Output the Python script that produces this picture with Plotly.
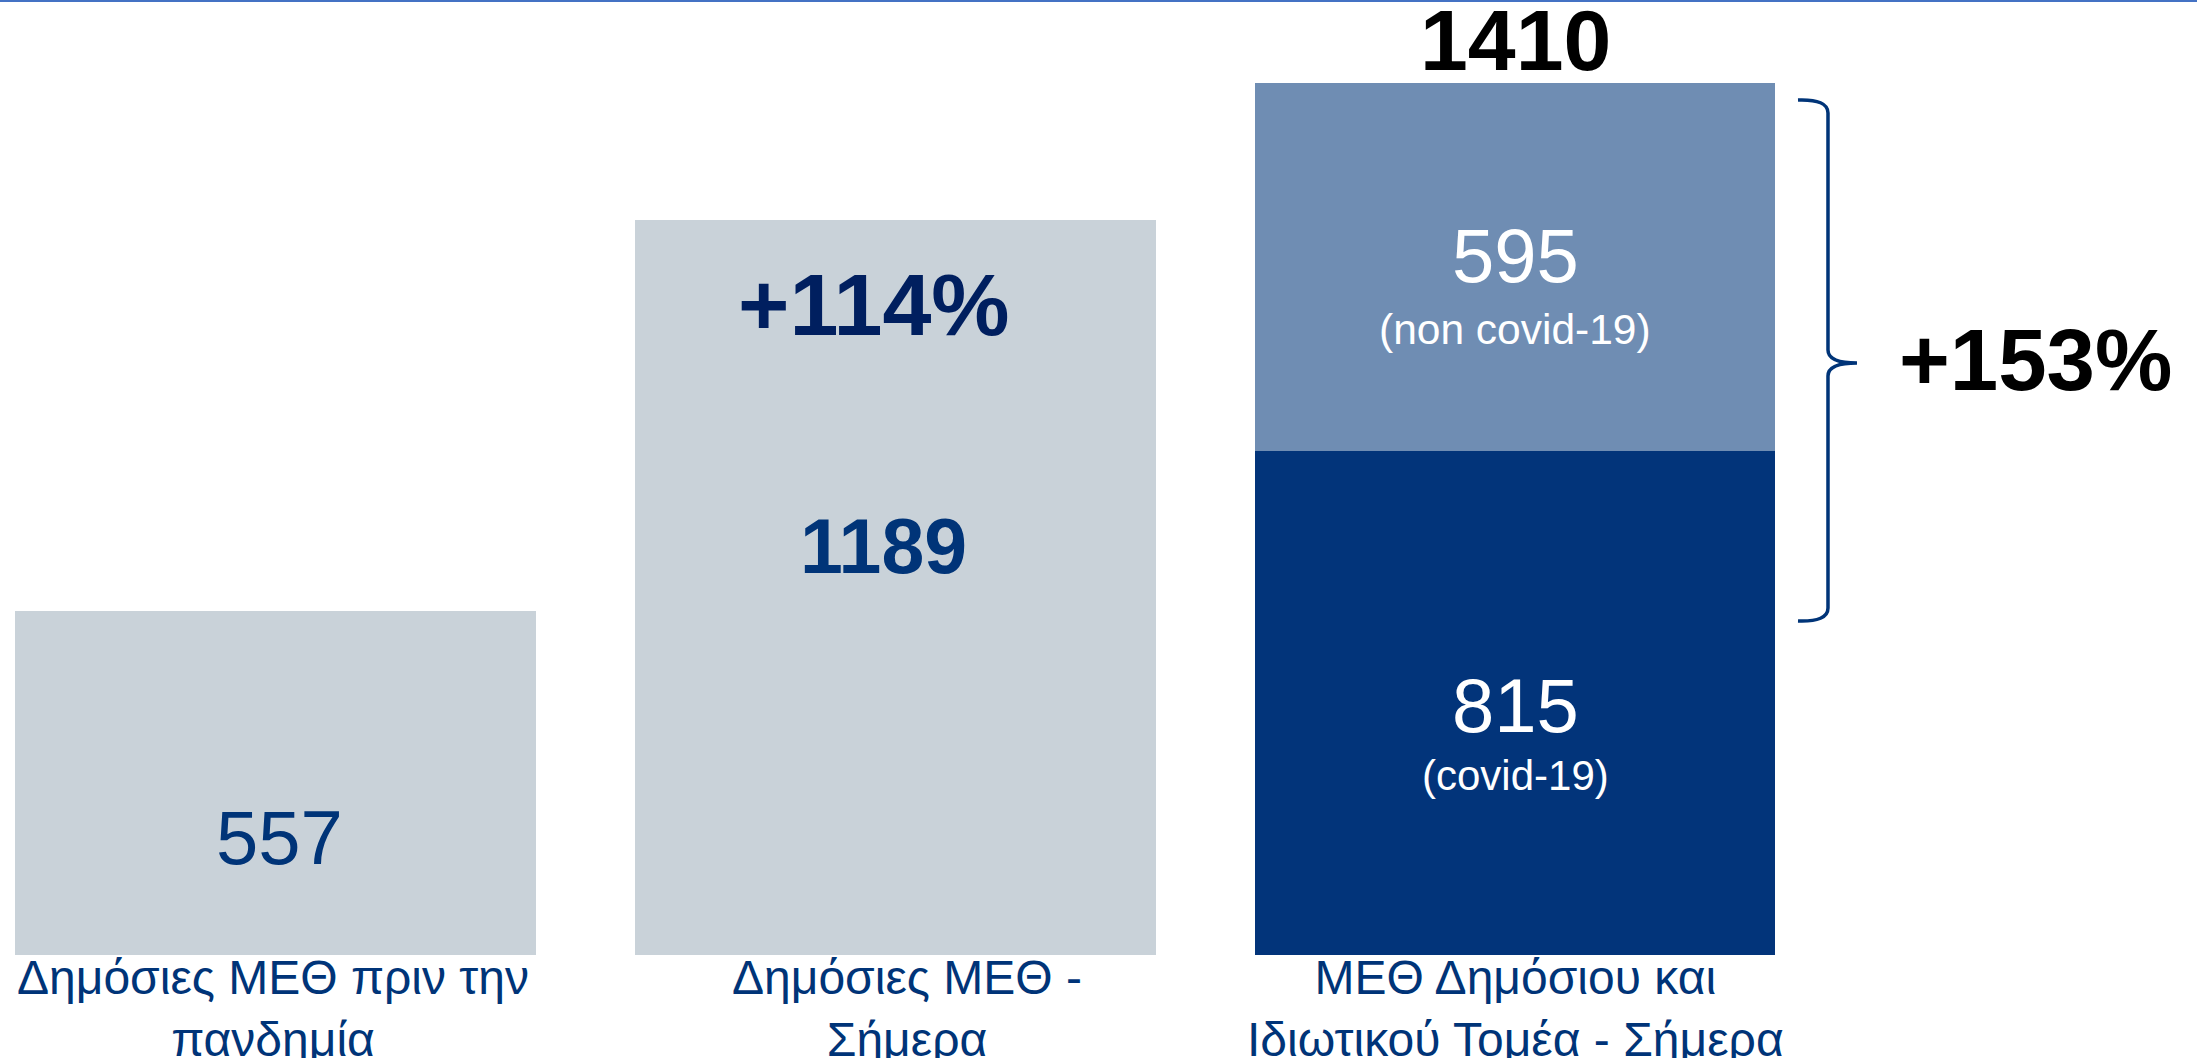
import plotly.graph_objects as go

# ---- data ----
categories = [
    "Δημόσιες ΜΕΘ πριν την<br>πανδημία",
    "Δημόσιες ΜΕΘ -<br>Σήμερα",
    "ΜΕΘ Δημόσιου και<br>Ιδιωτικού Τομέα - Σήμερα",
]
public_icu = [557, 1189, None]
covid_icu = [None, None, 815]
non_covid_icu = [None, None, 595]
total_today = 1410
pct_public = "+114%"
pct_total = "+153%"

W, H = 2197, 1058
PLOT_H = 955  # plot area height in px (top margin 0)

GRAY = "#C9D2D9"
STEEL = "#6F8DB3"
NAVY = "#02347A"
TXT_NAVY = "#003478"
DARK_NAVY = "#001F5F"
FONT = "Liberation Sans, Arial, sans-serif"

fig = go.Figure()
fig.add_trace(go.Bar(x=categories, y=public_icu, marker_color=GRAY, width=0.84,
                     marker_line_width=0, hoverinfo="skip"))
fig.add_trace(go.Bar(x=categories, y=covid_icu, marker_color=NAVY, width=0.84,
                     marker_line_width=0, hoverinfo="skip"))
fig.add_trace(go.Bar(x=categories, y=non_covid_icu, marker_color=STEEL, width=0.84,
                     marker_line_width=0, hoverinfo="skip"))


def ann(x, y, text, size, color, bold=False, **kw):
    t = f"<b>{text}</b>" if bold else text
    fig.add_annotation(x=x, y=y, text=t, showarrow=False,
                       font=dict(family=FONT, size=size, color=color), **kw)


# labels inside bars
ann(categories[0], public_icu[0] * 0.34, str(public_icu[0]), 76, TXT_NAVY, xshift=4)
ann(categories[1], public_icu[1] * 0.557, str(public_icu[1]), 77, TXT_NAVY, bold=True, xshift=-12)
ann(categories[1], public_icu[1] * 0.885, pct_public, 88, DARK_NAVY, bold=True, xshift=-21)
ann(categories[2], covid_icu[2] * 0.496, str(covid_icu[2]), 76, "white")
ann(categories[2], covid_icu[2] * 0.356, "(covid-19)", 42, "white")
ann(categories[2], covid_icu[2] + non_covid_icu[2] * 0.531, str(non_covid_icu[2]), 76, "white")
ann(categories[2], covid_icu[2] + non_covid_icu[2] * 0.33, "(non covid-19)", 42.5, "white")
ann(categories[2], total_today, str(total_today), 86, "black", bold=True,
    yanchor="bottom", yshift=-7)
ann(2035 / W, 1 - 360 / PLOT_H, pct_total, 87, "black", bold=True,
    xref="paper", yref="paper", xanchor="center", yanchor="middle")

# category labels under the bars
label_shift = [-2, 12, 0]
for cat, dx in zip(categories, label_shift):
    fig.add_annotation(x=cat, y=1 - 949 / PLOT_H, yref="paper", yanchor="top",
                       xshift=dx, text=cat, showarrow=False,
                       font=dict(family=FONT, size=48, color=TXT_NAVY))


# curly brace (decoration) drawn in pixel space -> paper coords
def px(x, y):
    return f"{x / W:.5f},{1 - y / PLOT_H:.5f}"


xv = 1828
brace = (
    f"M {px(1798, 100)} Q {px(xv, 99)} {px(xv, 113)} L {px(xv, 350)} "
    f"Q {px(xv, 363)} {px(1857, 363)} "
    f"M {px(1857, 363)} Q {px(xv, 363)} {px(xv, 376)} L {px(xv, 608)} "
    f"Q {px(xv, 622)} {px(1798, 621)}"
)
fig.add_shape(type="path", path=brace, xref="paper", yref="paper",
              line=dict(color=TXT_NAVY, width=3.5))

# top rule
fig.add_shape(type="line", xref="paper", yref="paper", x0=0, x1=1, y0=1, y1=1,
              line=dict(color="#4472C4", width=4))

fig.update_layout(
    width=W, height=H,
    margin=dict(l=0, r=0, t=0, b=H - PLOT_H, autoexpand=False),
    barmode="stack",
    showlegend=False,
    plot_bgcolor="white",
    paper_bgcolor="white",
    bargap=0,
)
fig.update_xaxes(range=[-0.444, 3.10], showgrid=False, zeroline=False, showline=False,
                 showticklabels=False, automargin=False)
fig.update_yaxes(range=[0, 1545], visible=False, showgrid=False, zeroline=False,
                 automargin=False)

fig.write_html("out.html",
               config={"displayModeBar": False},
               post_script="document.body.style.margin='0';document.body.style.overflow='hidden';")
